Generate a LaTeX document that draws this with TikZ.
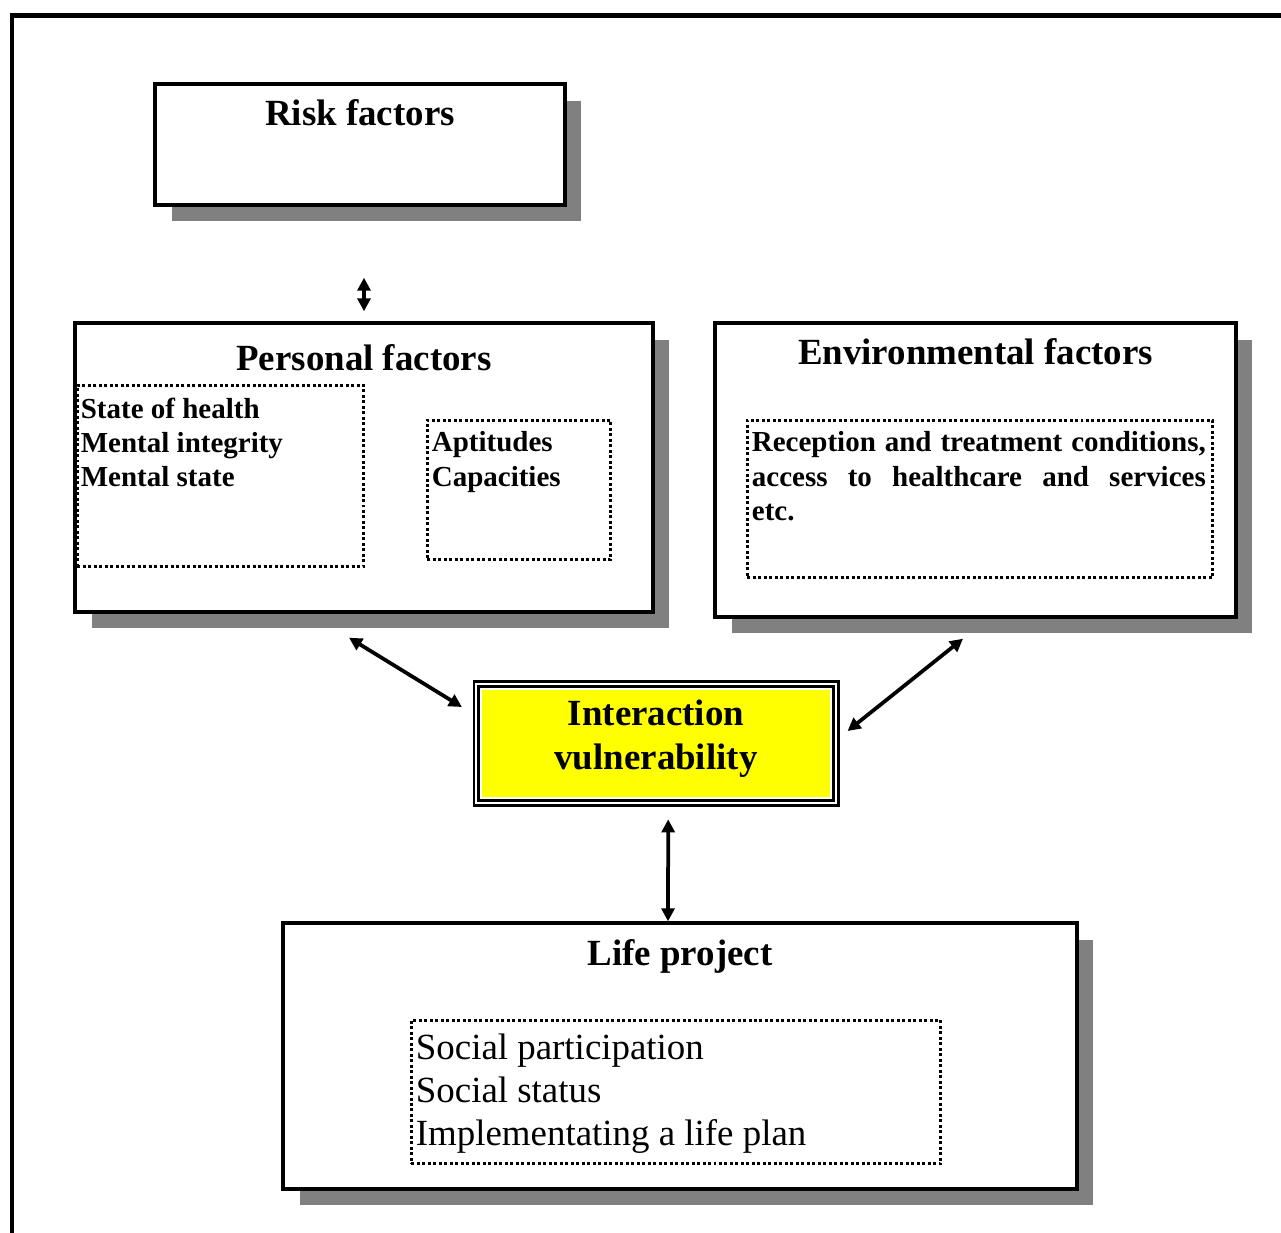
\documentclass[tikz,border=0pt]{standalone}
\usepackage{fontspec}
\setmainfont{Liberation Serif}
\usetikzlibrary{positioning}
\usetikzlibrary{shadows}
\usetikzlibrary{arrows.meta}
\definecolor{shadowgray}{RGB}{128,128,128}
\definecolor{boxyellow}{RGB}{255,255,0}
\tikzset{
	box/.style={draw,line width=0.07cm,fill=white,inner sep=0pt,drop shadow={shadow xshift=0.33cm,shadow yshift=-0.33cm,fill=shadowgray,opacity=1}},
	dotbox/.style={draw,line width=0.06cm,dash pattern=on 0.06cm off 0.05cm,inner sep=0pt},
	title/.style={font=\fontsize{21}{25}\selectfont\bfseries,inner sep=0pt,anchor=base},
	item/.style={font=\fontsize{16.5}{19.4}\selectfont\bfseries,inner sep=0pt,align=left},
	plainitem/.style={font=\fontsize{21}{24.4}\selectfont,inner sep=0pt,align=left},
	link/.style={line width=0.075cm,{Triangle[length=0.26cm,width=0.26cm]}-{Triangle[length=0.26cm,width=0.26cm]}},
}

\begin{document}
\begin{tikzpicture}[x=0.02cm,y=-0.02cm]
	\useasboundingbox (0,0) rectangle (1281,1233);
	\draw[line width=0.1cm] (12,1233) -- (12,15.5) -- (1281,15.5);
	%% risk factors
	\node[box,minimum width=8.2cm,minimum height=2.42cm] (risk) at (360,144.5) {};
	\node[title] (risktitle) at (360,126) {Risk factors};
	%% personal factors
	\node[box,minimum width=11.56cm,minimum height=5.78cm] (personal) at (364,467.5) {};
	\node[title] (perstitle) at (364,370) {Personal factors};
	\node[dotbox,minimum width=5.74cm,minimum height=3.64cm] (health) at (220.5,476) {};
	\node[item,below right=0.28cm and 0.1cm of health.north west] (healthtext) {State of health\\Mental integrity\\Mental state};
	\node[dotbox,minimum width=3.68cm,minimum height=2.8cm] (aptitude) at (519,490) {};
	\node[item,below right=0.26cm and 0.12cm of aptitude.north west] (aptitudetext) {Aptitudes\\Capacities};
	%% environmental factors
	\node[box,minimum width=10.42cm,minimum height=5.88cm] (environment) at (975.5,470) {};
	\node[title] (envtitle) at (975.5,364) {Environmental factors};
	\node[dotbox,minimum width=9.32cm,minimum height=3.16cm] (conditions) at (980,499) {};
	\node[item,text width=9.08cm,below right=0.26cm and 0.12cm of conditions.north west] (conditionstext) {\makebox[9.08cm][l]{Reception\hfill and\hfill treatment\hfill conditions,}\\\makebox[9.08cm][l]{access\hfill to\hfill healthcare\hfill and\hfill services}\\etc.};
	%% interaction
	\node[draw,line width=0.055cm,double,double distance=0.04cm,fill=white,inner sep=0pt,minimum width=7.2cm,minimum height=2.38cm,
		path picture={\fill[boxyellow] ([shift={(0.12cm,0.12cm)}]path picture bounding box.south west) rectangle ([shift={(-0.12cm,-0.12cm)}]path picture bounding box.north east);}] (inter) at (656.25,743.5) {};
	\node[title,anchor=center,align=center] (intertitle) at (656,739) {Interaction\\vulnerability};
	%% life project
	\node[box,minimum width=15.88cm,minimum height=5.32cm] (life) at (680,1056) {};
	\node[title] (lifetitle) at (680,965) {Life project};
	\node[dotbox,minimum width=10.6cm,minimum height=2.88cm] (participation) at (676,1092) {};
	\node[plainitem,below right=0.3cm and 0.12cm of participation.north west] (participationtext) {Social participation\\Social status\\Implementating a life plan};
	% arrows
	\draw[link,shorten <=1.42cm,shorten >=0.2cm] (personal.north |- risk.south) -- (personal.north);
	\draw[link] ([shift={(-0.3cm,-0.48cm)}]personal.south) -- ([shift={(-0.26cm,0.73cm)}]inter.west);
	\draw[link] ([shift={(-0.25cm,-0.4cm)}]environment.south) -- ([shift={(0.2cm,0.25cm)}]inter.east);
	\draw[link,shorten <=0.3cm] ([xshift=0.24cm]inter.south) -- ([xshift=-0.24cm]life.north);
\end{tikzpicture}
\end{document}
